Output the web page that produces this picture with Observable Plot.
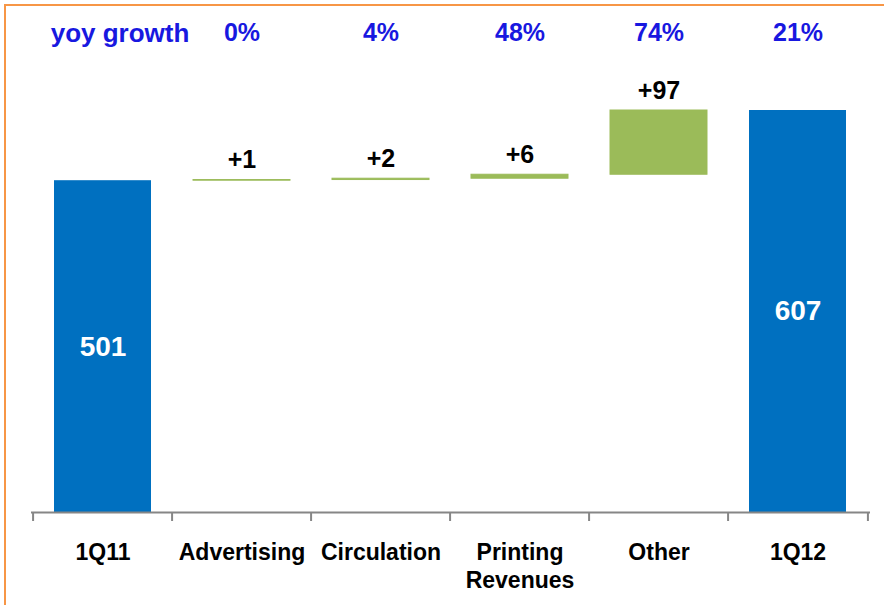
<!DOCTYPE html>
<html>
<head>
<meta charset="utf-8">
<script src="https://cdn.jsdelivr.net/npm/d3@7"></script>
<script src="https://cdn.jsdelivr.net/npm/@observablehq/plot@0.6"></script>
<style>
  html, body { margin: 0; padding: 0; background: #fff; overflow: hidden; }
  #wrap { position: relative; width: 884px; height: 605px; overflow: hidden; }
  #frame { position: absolute; left: 4px; top: 4px; right: -20px; bottom: -20px;
           border-top: 2px solid #F79646; border-left: 2px solid #F79646; }
  #chart { position: absolute; left: 0; top: 0; }
</style>
</head>
<body>
<div id="wrap"><div id="frame"></div><div id="chart"></div></div>
<script>
// Revenue bridge, 1Q11 to 1Q12
const categories = ["1Q11", "Advertising", "Circulation", "Printing\nRevenues", "Other", "1Q12"];
const values = [501, 1, 2, 6, 97, 607];
const kinds = ["total", "delta", "delta", "delta", "delta", "total"];
const yoyHeader = "yoy growth";
const yoyGrowth = ["0%", "4%", "48%", "74%", "21%"];

// Build the floating bar extents
let running = 0;
const rows = categories.map((c, i) => {
  const v = values[i];
  let y1, y2;
  if (kinds[i] === "total") { y1 = 0; y2 = v; running = v; }
  else { y1 = running; y2 = running + v; running = y2; }
  return {cat: c, value: v, kind: kinds[i], y1, y2,
          label: kinds[i] === "total" ? String(v) : "+" + v};
});
const totals = rows.filter(d => d.kind === "total");
const deltas = rows.filter(d => d.kind === "delta");
const yoyRows = categories.slice(1).map((c, i) => ({cat: c, text: yoyGrowth[i]}));

const W = 884, H = 605, ML = 31, MR = 14;
const step = (W - ML - MR) / categories.length;
const font = "'Liberation Sans', Arial, sans-serif";

const plot = Plot.plot({
  width: W, height: H,
  marginLeft: ML, marginRight: MR, marginTop: 110, marginBottom: 93,
  style: {fontFamily: font, background: "transparent", overflow: "visible"},
  x: {domain: categories, paddingInner: 0.3, paddingOuter: 0.15, label: null},
  y: {domain: [0, 607], axis: null},
  marks: [
    // floating bars
    Plot.rectY(totals, {x: "cat", y1: "y1", y2: "y2", fill: "#0070C0"}),
    Plot.rectY(deltas, {x: "cat", y1: "y1", y2: "y2", fill: "#9BBB59", stroke: "#9BBB59", strokeWidth: 1}),
    // baseline
    Plot.ruleY([0], {stroke: "#868686", strokeWidth: 2}),
    // boundary ticks between categories
    Plot.axisX({tickSize: 9, dx: -step / 2, tickFormat: () => "", stroke: "#868686", strokeWidth: 2}),
    Plot.axisX({ticks: [categories[categories.length - 1]], tickSize: 9, dx: step / 2,
                tickFormat: () => "", stroke: "#868686", strokeWidth: 2}),
    // category labels
    Plot.axisX({tickSize: 0, tickPadding: 28, fontSize: 23, fontWeight: "bold",
                fill: "#000", lineHeight: 1.2, lineAnchor: "top"}),
    // value labels
    Plot.text(totals, {x: "cat", y: d => (d.y1 + d.y2) / 2, text: "label",
                       fill: "#fff", fontSize: 28, fontWeight: "bold"}),
    Plot.text(deltas, {x: "cat", y: "y2", text: "label", lineAnchor: "bottom", dy: -12,
                       fill: "#000", fontSize: 25, fontWeight: "bold"}),
    // yoy growth row
    Plot.text([yoyHeader], {x: () => categories[0], text: d => d, frameAnchor: "top", dy: -87, dx: 17,
                            fill: "#1818E0", fontSize: 26, fontWeight: "bold"}),
    Plot.text(yoyRows, {x: "cat", text: "text", frameAnchor: "top", dy: -87,
                        fill: "#1818E0", fontSize: 25, fontWeight: "bold"})
  ]
});
document.getElementById("chart").appendChild(plot);
</script>
</body>
</html>
